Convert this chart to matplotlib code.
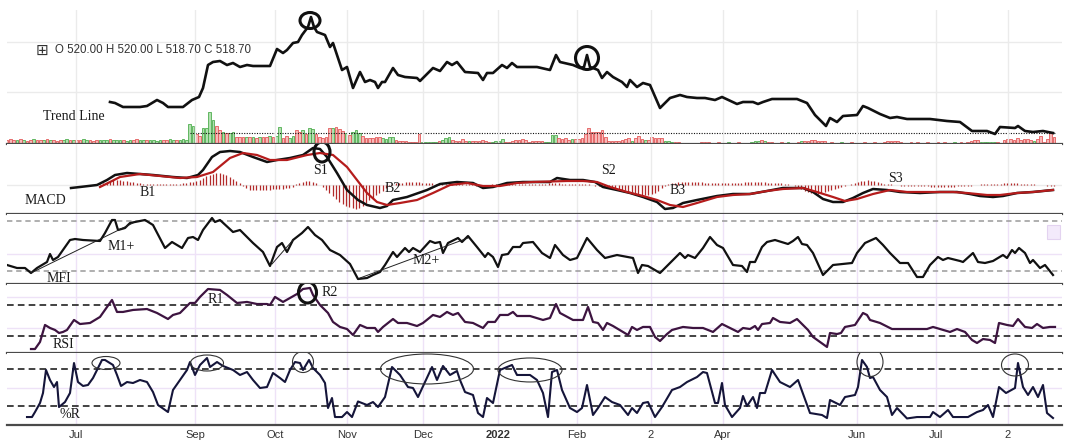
import numpy as np
import matplotlib
matplotlib.use("Agg")
import matplotlib.pyplot as plt
from matplotlib.patches import Ellipse, Rectangle

# time axis ticks (x runs along the session on a 0-1060 scale)
tick_pos = [76, 195, 275, 347, 423, 498, 577, 651, 723, 857, 936, 1008]
tick_labels = ['Jul', 'Sep', 'Oct', 'Nov', 'Dec', '2022', 'Feb', '2', 'Apr', 'Jun', 'Jul', '2']

# price (close)
price_x = [110, 115, 123, 140, 147, 157, 163, 168, 183, 192,
           199, 203, 208, 213, 220, 227, 233, 240, 247, 253,
           270, 277, 283, 287, 293, 298, 302, 308, 311, 314,
           317, 325, 330, 333, 337, 342, 347, 353, 360, 365,
           370, 375, 378, 382, 385, 393, 398, 405, 417, 420,
           433, 440, 447, 452, 457, 465, 478, 483, 487, 493,
           502, 507, 512, 517, 537, 550, 556, 560, 573, 580,
           584, 587, 590, 593, 598, 602, 607, 613, 622, 627,
           630, 637, 643, 650, 660, 670, 680, 687, 697, 705,
           715, 722, 737, 743, 753, 758, 763, 772, 797, 807,
           815, 826, 830, 837, 843, 857, 863, 868, 880, 890,
           897, 907, 930, 947, 960, 972, 987, 995, 1000, 1015,
           1018, 1025, 1033, 1043, 1053]
price = [550, 549, 545, 545, 546, 552, 549, 545, 545, 552,
         555, 564, 587, 590, 591, 587, 589, 585, 587, 586,
         586, 603, 599, 602, 609, 610, 617, 625, 635, 625,
         620, 617, 605, 609, 597, 582, 585, 564, 580, 570,
         572, 570, 564, 570, 570, 584, 577, 575, 574, 571,
         584, 581, 590, 587, 590, 580, 579, 572, 579, 579,
         587, 584, 589, 585, 585, 582, 597, 590, 587, 584,
         585, 597, 585, 584, 582, 574, 580, 575, 570, 565,
         572, 565, 569, 567, 544, 554, 557, 555, 554, 554,
         552, 555, 548, 550, 550, 548, 550, 553, 553, 549,
         537, 526, 534, 530, 536, 537, 546, 544, 538, 534,
         535, 533, 533, 531, 530, 521, 521, 518, 525, 524,
         526, 521, 520, 521, 519]

# volume (one bar per session) and direction (g = up, r = down)
volume = [4, 5, 4, 4, 5, 4, 3, 4, 5, 4, 4,
          4, 5, 4, 4, 3, 4, 4, 5, 4, 4, 4,
          4, 5, 4, 4, 3, 4, 4, 4, 4, 5, 4,
          4, 4, 4, 3, 4, 4, 5, 4, 4, 4, 4,
          4, 3, 4, 4, 4, 5, 4, 4, 4, 5, 4,
          20, 18, 10, 8, 16, 16, 32, 24, 18, 14,
          12, 11, 11, 12, 7, 7, 7, 7, 7, 7,
          6, 7, 7, 7, 8, 7, 8, 17, 6, 8,
          6, 8, 14, 12, 14, 10, 16, 15, 10, 7,
          6, 7, 16, 16, 17, 15, 13, 11, 9, 12,
          14, 11, 8, 6, 6, 6, 7, 7, 6, 5,
          7, 7, 4, 3, 3, 3, 2, 2, 2, 10,
          2, 2, 2, 2, 2, 3, 4, 6, 7, 4,
          3, 3, 5, 3, 3,
          3, 3, 3, 4, 3, 2, 2, 3, 3, 5,
          2, 2, 3, 4, 4, 5, 4, 2, 3, 3,
          3, 3, 2, 2, 9, 9, 6, 5, 6, 4,
          5, 5, 5, 6, 10, 16, 12, 12, 12, 14,
          7, 3, 3, 3, 3, 4, 5, 6, 3, 6,
          8, 5, 4, 4, 7, 6, 6, 6, 3, 3,
          2, 2, 2, 1, 1, 1, 1, 1, 1, 2,
          2, 2, 1, 1, 2, 1, 1, 2, 1, 1,
          2, 1, 1, 1, 2, 3, 3, 4, 3, 2,
          2, 1, 1, 2, 1, 2, 1, 1, 2, 3,
          3, 3, 4, 4, 3, 3, 3, 1, 2, 1,
          1, 2, 1, 1, 2, 1, 1, 1, 2, 1,
          1, 2, 1, 1, 2, 3, 3, 3, 3, 2,
          1, 1, 2, 1, 2, 1, 1, 2, 1, 1,
          2, 1, 2, 1, 1, 2, 1, 2, 1, 2,
          3, 4, 4, 2, 2, 2, 2, 2, 2, 1,
          4, 5, 5, 4, 6, 4, 5, 5, 4, 3,
          5, 8, 2, 5, 11, 7]
vol_dir = ("rrrgrgrrgrr" "grgrrrggrgr" "rggrrrgggrg" "ggrggrrggrg" "gggrrggrggg"
           "ggrrggggrr" "grggrrrgrg" "rgrrgrggrr" "ggrrgrggrr" "rrrgrrrgrg"
           "ggrrrrrrgg" "ggrrrrrrrr" "gggggrgggr" "rrrrg"
           "rrrrrrgggg" "rrrrrrrrrr" "rrggggrrrr" "grrrrrrrrr" "rrrrrrrrgr"
           "rrgrrrrrgg" "grrggggrrr" "rrrgrgrgrg" "rgrggggrgr"
           "rrgrrgrgrg" "rrrrrrrgrg" "rgrgrgrgrg" "rrgrrrrrrr" "grrgrrgrrg"
           "rrrgrgrrgr" "rrrgggggrg" "rrrrrrrrrg" "rrrrrr")
vol_avg = 11

# MACD, signal and histogram
macd_x = [71, 80, 97, 107, 115, 127, 140, 153, 173, 187,
          198, 203, 212, 220, 230, 240, 253, 267, 277, 290,
          303, 313, 320, 327, 337, 347, 358, 367, 380, 387,
          393, 407, 427, 440, 457, 473, 483, 493, 507, 523,
          550, 557, 570, 583, 595, 603, 617, 630, 643, 657,
          665, 673, 683, 697, 717, 733, 750, 767, 783, 803,
          813, 823, 833, 843, 853, 863, 873, 887, 900, 920,
          940, 957, 970, 980, 993, 1003, 1017, 1033, 1053]
macd = [-3.5, -2.5, -0.5, 4.5, 9.5, 11.5, 10.5, 9.5, 7.5, 6.5,
        9.5, 14.5, 27.5, 32.5, 33.5, 32.5, 27.5, 22.5, 24.5, 26.5,
        29.5, 36.5, 35.5, 27.5, 11.5, -5.5, -15.5, -20.5, -23.5, -21.5,
        -15.5, -12.5, -5.5, 0.5, 2.5, 1.5, -3.5, -2.5, 1.5, 2.5,
        2.5, 6.5, 4.5, 4.5, 2.5, -2.5, -5.5, -8.5, -12.5, -17.5,
        -24.5, -23.5, -18.5, -15.5, -11.5, -9.5, -9.5, -6.5, -3.5, -3.5,
        -7.5, -14.5, -17.5, -17.5, -13.5, -8.5, -4.5, -5.5, -7.5, -8.5,
        -7.5, -7.5, -9.5, -11.5, -12.5, -11.5, -8.5, -7.5, -5.5]
signal_x = [100, 110, 120, 140, 160, 180, 197, 213, 230, 243,
            257, 270, 287, 307, 320, 333, 347, 357, 367, 377,
            387, 400, 417, 433, 450, 467, 483, 500, 517, 533,
            567, 583, 597, 610, 627, 643, 657, 670, 683, 697,
            717, 733, 750, 767, 783, 803, 817, 833, 845, 857,
            873, 890, 907, 933, 953, 967, 987, 1000, 1017, 1033,
            1053]
signal = [-2.5, 2.5, 7.5, 10.5, 8.5, 6.5, 7.5, 12.5, 26.5, 31.5,
          29.5, 24.5, 24.5, 29.5, 31.5, 29.5, 17.5, 4.5, -8.5, -17.5,
          -20.5, -18.5, -15.5, -8.5, -0.5, 1.5, -1.5, -1.5, 1.5, 2.5,
          3.5, 3.5, 2.5, -2.5, -7.5, -11.5, -15.5, -20.5, -22.5, -18.5,
          -12.5, -10.5, -9.5, -6.5, -4.5, -3.5, -7.5, -12.5, -16.5, -14.5,
          -9.5, -5.5, -7.5, -7.5, -7.5, -8.5, -10.5, -10.5, -8.5, -7.5,
          -5.5]
hist = ([1, 2, 3, 4, 5, 5, 5, 4, 4, 3, 3, 2, 2, 1]
        + [1, 1, 1, 1, 1, 1, 1, 1, 1, 1, 1, 2, 2, 3]
        + [3, 4, 5, 7, 9, 10, 11, 12, 12, 11, 10, 8, 6, 4, 2, -1, -3]
        + [-5, -5, -5, -5, -5, -5, -5, -4, -4, -4, -4, -3, -3, -2]
        + [1, 2, 3, 4, 4, 3, 2, 0]
        + [-2, -5, -8, -11, -14, -17, -19, -21, -22, -23, -24]
        + [-23, -21, -18, -15, -13, -10, -8, -6, -3, -1, 1]
        + [2, 2, 2, 3, 3, 3, 3, 3, 2, 2, 2, 2]
        + [1, 1, 1, 1, 1, 1, 1, 1, 1, 1, 1, 1]
        + [-1, -1, -1, -1, 0, 1, 1, 1, 1, 1, 1, 1, 1, 1, 1]
        + [1, 1, 1, 1, 1, 1, 1, 2, 2, 2, 2, 1, 1, 1, 1, 1, 1, 1, 1, 1, 0]
        + [-1, -1, -2, -2, -3]
        + [-3, -4, -4, -5, -5, -6, -7, -8, -9, -10, -10, -10, -9, -8, -6, -3]
        + [-1, 1]
        + [2, 2, 3, 3, 3, 3, 3, 3, 3, 3, 2, 2, 2, 2, 2, 2, 2, 2, 2, 2,
           2, 2, 3, 3, 3, 3, 3, 3, 3, 2, 2]
        + [2, 2, 2, 1, 1, 0]
        + [-1, -2, -4, -6, -7, -8, -9, -9, -8, -7, -6, -5, -4, -3, -2, -1, 0]
        + [1, 2, 3, 4, 4, 5, 4, 4, 3, 2, 1]
        + [1, 1, 0, 0, -1, -1, -1, -1, -1, -1, -1, -1, -1]
        + [-2, -2, -2, -2, -2, -2, -2, -2, -1, -1, -1]
        + [-1, -1, 0, 0, 1, 1, 1, 1, 1, 1]
        + [1, 2, 2, 2, 2, 2, 1, 1, 1, 1, 1]
        + [0, 0, 0, -1, -1, -1])

# MFI
mfi_x = [7, 17, 25, 31, 37, 47, 50, 53, 58, 70,
         75, 83, 100, 105, 112, 115, 118, 125, 130, 145,
         153, 165, 172, 182, 188, 193, 198, 203, 212, 215,
         220, 233, 240, 253, 263, 270, 277, 282, 287, 293,
         302, 308, 315, 322, 330, 340, 350, 358, 367, 373,
         380, 385, 393, 397, 405, 409, 413, 420, 430, 435,
         440, 443, 448, 458, 462, 468, 477, 485, 488, 493,
         498, 502, 508, 513, 520, 523, 533, 542, 550, 555,
         563, 570, 577, 587, 597, 605, 617, 633, 638, 642,
         648, 660, 670, 680, 685, 688, 695, 703, 710, 717,
         723, 733, 742, 747, 750, 755, 762, 767, 775, 788,
         793, 798, 802, 807, 813, 823, 833, 852, 857, 865,
         876, 883, 890, 900, 908, 917, 923, 930, 938, 943,
         948, 960, 963, 973, 978, 985, 993, 1003, 1007, 1012,
         1015, 1019, 1025, 1030, 1033, 1040, 1045, 1053]
mfi = [26.8, 23.2, 23.2, 17.2, 23.2, 30.4, 40, 32.8, 36.4, 56.8,
       58, 56.8, 55.6, 65.2, 80.8, 80.8, 68.8, 71.2, 77.2, 80.8,
       74.8, 47.2, 54.4, 47.2, 59.2, 60.4, 56.8, 68.8, 83.2, 78.4,
       80.8, 66.4, 68.8, 53.2, 42.4, 25.6, 48.4, 53.2, 42.4, 56.8,
       65.2, 72.4, 62.8, 56.8, 44.8, 38.8, 28, 10, 11.2, 14.8,
       18.4, 26.8, 42.4, 36.4, 47.2, 42.4, 47.2, 42.4, 55.6, 53.2,
       54.4, 41.2, 53.2, 59.2, 54.4, 61.6, 48.4, 36.4, 41.2, 36.4,
       24.4, 38.8, 40, 48.4, 48.4, 53.2, 54.4, 41.2, 35.2, 50.8,
       38.8, 32.8, 35.2, 59.2, 44.8, 35.2, 38.8, 35.2, 17.2, 26.8,
       25.6, 17.2, 29.2, 41.2, 35.2, 38.8, 35.2, 47.2, 60.4, 50.8,
       47.2, 26.8, 25.6, 18.4, 30.4, 30.4, 48.4, 54.4, 56.8, 52,
       55.6, 60.4, 52, 50.8, 41.2, 14.8, 26.8, 29.2, 41.2, 53.2,
       59.2, 50.8, 41.2, 29.2, 29.2, 12.4, 12.4, 26.8, 36.4, 32.8,
       35.2, 31.6, 30.4, 41.2, 30.4, 29.2, 31.6, 38.8, 35.2, 44.8,
       41.2, 47.2, 41.2, 29.2, 32.8, 23.2, 26.8, 14.8]

# RSI
rsi_x = [31, 35, 40, 45, 50, 55, 59, 63, 67, 74,
         80, 90, 100, 107, 112, 117, 123, 133, 147, 157,
         168, 173, 180, 190, 195, 200, 208, 220, 227, 237,
         247, 257, 267, 270, 275, 283, 290, 297, 303, 310,
         313, 320, 328, 333, 340, 347, 353, 360, 367, 375,
         378, 383, 393, 398, 407, 417, 423, 433, 440, 447,
         453, 458, 465, 473, 483, 488, 495, 500, 508, 513,
         517, 530, 543, 550, 556, 560, 573, 583, 588, 593,
         598, 603, 607, 613, 628, 632, 637, 643, 650, 655,
         660, 667, 672, 683, 693, 703, 713, 722, 730, 738,
         743, 750, 755, 758, 762, 770, 773, 780, 790, 797,
         802, 808, 813, 827, 830, 837, 841, 845, 855, 863,
         867, 870, 880, 892, 907, 927, 933, 940, 950, 957,
         965, 972, 977, 983, 990, 995, 999, 1007, 1013, 1018,
         1025, 1032, 1037, 1043, 1050, 1055]
rsi = [14.0, 14.0, 22.9, 44.3, 40.5, 38.0, 34.2, 35.5, 38.0, 50.6,
       45.5, 46.8, 54.4, 67.0, 75.8, 60.7, 60.7, 63.2, 64.4, 59.4,
       51.8, 56.9, 59.4, 72.0, 72.0, 79.6, 89.6, 88.4, 82.1, 72.0,
       73.3, 70.7, 70.7, 69.5, 79.6, 73.3, 78.3, 83.3, 89.6, 90.9,
       82.1, 69.5, 59.4, 48.1, 41.8, 39.2, 31.7, 44.3, 40.5, 40.5,
       35.5, 41.8, 51.8, 46.8, 46.8, 43.0, 46.8, 56.9, 54.4, 60.7,
       56.9, 59.4, 48.1, 46.8, 40.5, 48.1, 48.1, 56.9, 56.9, 60.7,
       55.6, 55.6, 50.6, 53.1, 70.7, 59.4, 50.6, 50.6, 67.0, 48.1,
       46.8, 38.0, 46.8, 43.0, 31.7, 41.8, 38.0, 41.8, 41.8, 29.2,
       24.1, 32.9, 38.0, 41.8, 40.5, 40.5, 35.5, 45.5, 40.5, 35.5,
       40.5, 39.2, 43.0, 38.0, 45.5, 46.8, 53.1, 48.1, 46.8, 51.8,
       45.5, 38.0, 29.2, 16.6, 34.2, 32.9, 34.2, 41.8, 44.3, 59.4,
       56.9, 50.6, 46.8, 39.2, 39.2, 39.2, 41.8, 39.2, 35.5, 39.2,
       35.5, 25.4, 21.6, 26.6, 25.4, 21.6, 46.8, 44.3, 43.0, 51.8,
       41.8, 40.5, 45.5, 40.5, 41.8, 41.8]

# Williams %R
wr_x = [27, 32, 35, 40, 43, 46, 50, 54, 57, 59,
        65, 70, 74, 78, 83, 88, 93, 102, 105, 113,
        117, 121, 127, 133, 140, 147, 153, 158, 168, 173,
        182, 187, 190, 195, 200, 207, 210, 217, 223, 233,
        240, 247, 253, 260, 267, 273, 280, 285, 290, 295,
        300, 303, 309, 313, 320, 325, 328, 332, 335, 342,
        347, 352, 358, 367, 373, 378, 385, 392, 400, 408,
        413, 418, 432, 437, 443, 450, 457, 460, 465, 473,
        478, 483, 487, 493, 500, 507, 512, 517, 530, 537,
        543, 548, 552, 557, 562, 570, 577, 582, 587, 593,
        598, 605, 612, 620, 628, 632, 637, 643, 648, 655,
        662, 672, 680, 687, 697, 703, 707, 715, 718, 722,
        725, 732, 740, 743, 747, 753, 757, 760, 765, 772,
        780, 790, 798, 810, 822, 827, 830, 840, 845, 855,
        858, 862, 867, 870, 873, 880, 887, 892, 897, 907,
        917, 930, 933, 940, 948, 953, 968, 977, 983, 988,
        993, 999, 1006, 1015, 1018, 1023, 1028, 1033, 1038, 1043,
        1047, 1053]
wr = [-97.7, -97.7, -89.6, -75.0, -58.8, -21.5, -37.7, -49.1, -41.0, -81.5,
      -73.4, -58.8, -10.2, -41.0, -47.4, -45.8, -34.5, -5.3, -5.3, -13.4,
      -29.6, -47.4, -41.0, -42.6, -37.7, -41.0, -57.2, -78.2, -89.6, -53.9,
      -32.9, -21.5, -8.6, -29.6, -13.4, -2.1, -16.7, -8.6, -15.0, -21.5,
      -29.6, -24.8, -37.7, -50.7, -49.1, -26.4, -34.5, -41.0, -21.5, -8.6,
      -10.2, -21.5, -5.3, -18.3, -29.6, -42.6, -83.1, -66.9, -97.7, -97.7,
      -89.6, -97.7, -72.5, -78.2, -73.4, -81.5, -65.3, -16.7, -29.6, -49.1,
      -50.7, -65.3, -16.7, -37.7, -15.0, -29.6, -23.1, -37.7, -57.2, -62.0,
      -91.2, -97.7, -66.9, -75.0, -21.5, -16.7, -13.4, -29.6, -29.6, -37.7,
      -58.8, -97.7, -24.8, -21.5, -53.9, -83.1, -89.6, -83.1, -45.8, -94.4,
      -83.1, -65.3, -73.4, -78.2, -94.4, -83.1, -91.2, -75.0, -73.4, -97.7,
      -81.5, -53.9, -49.1, -41.0, -32.9, -24.8, -26.4, -75.0, -75.0, -42.6,
      -78.2, -97.7, -83.1, -63.6, -79.8, -65.3, -83.1, -58.8, -58.8, -21.5,
      -41.0, -49.1, -37.7, -91.2, -94.4, -99.3, -70.1, -78.2, -65.3, -62.0,
      -49.1, -5.3, -16.7, -34.5, -32.9, -53.9, -65.3, -94.4, -83.1, -100.0,
      -97.7, -97.7, -89.6, -97.7, -86.3, -97.7, -97.7, -89.6, -86.3, -78.2,
      -97.7, -49.1, -58.8, -50.7, -10.2, -49.1, -62.0, -49.1, -65.3, -45.8,
      -91.2, -99.3]

# ---------------------------------------------------------------------------
W, H = 1065, 443
X0, X1 = 7, 1062
SERIF = ['Liberation Serif', 'DejaVu Serif']
SANS = ['Liberation Sans', 'DejaVu Sans']

fig = plt.figure(figsize=(W / 100, H / 100), dpi=100)


def panel(top, bottom, ylim, gridcolor):
    ax = fig.add_axes([X0 / W, 1 - bottom / H, (X1 - X0) / W, (bottom - top) / H])
    ax.set_xlim(X0, X1)
    ax.set_ylim(*ylim)
    ax.set_xticks(tick_pos)
    ax.tick_params(length=0, labelbottom=False, labelleft=False)
    for s in ('top', 'left', 'right'):
        ax.spines[s].set_visible(False)
    ax.spines['bottom'].set_color('#4a4a4a')
    ax.spines['bottom'].set_linewidth(1.6)
    ax.grid(color=gridcolor, lw=1)
    ax.set_axisbelow(True)
    return ax


def ring(ax, x, y, w_px, h_px, lw, color='#111'):
    # ellipse sized in screen pixels
    y0, y1 = ax.get_ylim()
    scale = (y1 - y0) / (ax.get_position().height * H)
    ax.add_patch(Ellipse((x, y), w_px, h_px * scale, fill=False, lw=lw,
                         ec=color, zorder=6))


def label(ax, x, y, s, size=10):
    ax.text(x, y, s, family=SERIF, fontsize=size, color='#1a1a1a',
            ha='left', va='center', zorder=7)


# volume sits under the price panel
ax_v = fig.add_axes([X0 / W, 1 - 144 / H, (X1 - X0) / W, 44 / H])
ax_v.set_xlim(X0, X1)
ax_v.set_ylim(0, 44)
ax_v.axis('off')
vol_step = (1054 - 7) / (len(volume) - 1)
vol_x = 7 + np.arange(len(volume)) * vol_step
up = np.array([d == 'g' for d in vol_dir])
vol = np.array(volume)
ax_v.bar(vol_x[up], vol[up], width=vol_step * 0.8, color='#b2e0b0',
         edgecolor='#4fae4f', lw=0.6)
ax_v.bar(vol_x[~up], vol[~up], width=vol_step * 0.8, color='#f8b9b9',
         edgecolor='#e25a5a', lw=0.6)
ax_v.hlines(vol_avg, 190, 1056, colors='#111', linestyles=(0, (1, 1.3)), lw=0.8)

# price
ax_p = panel(10, 144, (508, 642), '#ebebeb')
ax_p.patch.set_visible(False)
ax_p.set_yticks([560, 610])
ax_p.plot(price_x, price, color='#111', lw=1.9, solid_joinstyle='round')
ax_p.text(42, 602, '\u229e', family=['DejaVu Sans'], fontsize=11, color='#333',
          ha='center', va='center')
ax_p.text(55, 602, 'O 520.00 H 520.00 L 518.70 C 518.70', family=SANS,
          fontsize=8.3, color='#333', ha='left', va='center')
label(ax_p, 43, 536, 'Trend Line')
ring(ax_p, 310, 631.5, 20, 16, 2.2)
ring(ax_p, 587, 594, 23, 23, 2.2)

# MACD
ax_m = panel(144, 214, (-29.5, 40.5), '#ebebeb')
ax_m.set_yticks([0])
hist_x = 100 + np.arange(len(hist)) * vol_step
ax_m.vlines(hist_x, 0, hist, color='#b22a2a', lw=0.9)
ax_m.plot(macd_x, macd, color='#111', lw=1.8)
ax_m.plot(signal_x, signal, color='#b51c1c', lw=1.6)
label(ax_m, 25, -16.5, 'MACD')
label(ax_m, 140, -8.5, 'B1')
label(ax_m, 313, 13.5, 'S1')
label(ax_m, 385, -3.5, 'B2')
label(ax_m, 601, 13.5, 'S2')
label(ax_m, 670, -5.5, 'B3')
label(ax_m, 888, 5.5, 'S3')
ring(ax_m, 322, 32.5, 16, 20, 2.2)

# MFI
ax_f = panel(214, 284, (4, 88), '#eee2f7')
ax_f.set_yticks([40])
for lvl in (80, 20):
    ax_f.axhline(lvl, color='#9a9a9a', lw=1.1, ls=(0, (3.5, 2.5)))
ax_f.plot(mfi_x, mfi, color='#111', lw=1.6)
ax_f.plot([31, 133], [17.2, 77.2], color='#222', lw=0.7)
ax_f.plot([272, 293], [28, 56.8], color='#222', lw=0.7)
ax_f.plot([360, 468], [11.2, 59.2], color='#222', lw=0.7)
ax_f.add_patch(Rectangle((1047, 58), 13, 16.8, fc='#f3eafb', ec='#e3d3f0', lw=0.8))
label(ax_f, 108, 48.4, 'M1+')
label(ax_f, 47, 11.2, 'MFI')
label(ax_f, 413, 32.8, 'M2+')

# RSI
ax_r = panel(284, 353, (9, 95.9), '#eee2f7')
ax_r.set_yticks([40, 80])
for lvl in (70, 30):
    ax_r.axhline(lvl, color='#222', lw=1.2, ls=(0, (4, 2.5)))
ax_r.plot(rsi_x, rsi, color='#3d1440', lw=1.6)
label(ax_r, 208, 75.8, 'R1')
label(ax_r, 322, 84.6, 'R2')
label(ax_r, 53, 19.1, 'RSI')
ring(ax_r, 307.5, 85.2, 18, 21, 2.2)

# Williams %R
ax_w = panel(353, 425, (-110.6, 6), '#eee2f7')
ax_w.set_yticks([-50])
for lvl in (-20, -80):
    ax_w.axhline(lvl, color='#222', lw=1.2, ls=(0, (4, 2.5)))
ax_w.plot(wr_x, wr, color='#15153a', lw=1.5)
label(ax_w, 60, -94.4, '%R')
for cx, cy, w, h in [(106, -10.2, 28, 13), (207, -10.2, 33, 16), (303, -8.6, 21, 21),
                     (427, -19.9, 93, 30), (530, -21.5, 64, 24),
                     (870, -8.6, 26, 29), (1015, -13.4, 27, 22)]:
    ring(ax_w, cx, cy, w, h, 0.8, '#333')

ax_w.tick_params(labelbottom=True, pad=3.5, labelsize=8, labelcolor='#333')
ax_w.set_xticklabels(tick_labels, family=SANS)
for t in ax_w.get_xticklabels():
    if t.get_text() == '2022':
        t.set_fontweight('bold')

fig.savefig('out.png', dpi=100, facecolor='white')
